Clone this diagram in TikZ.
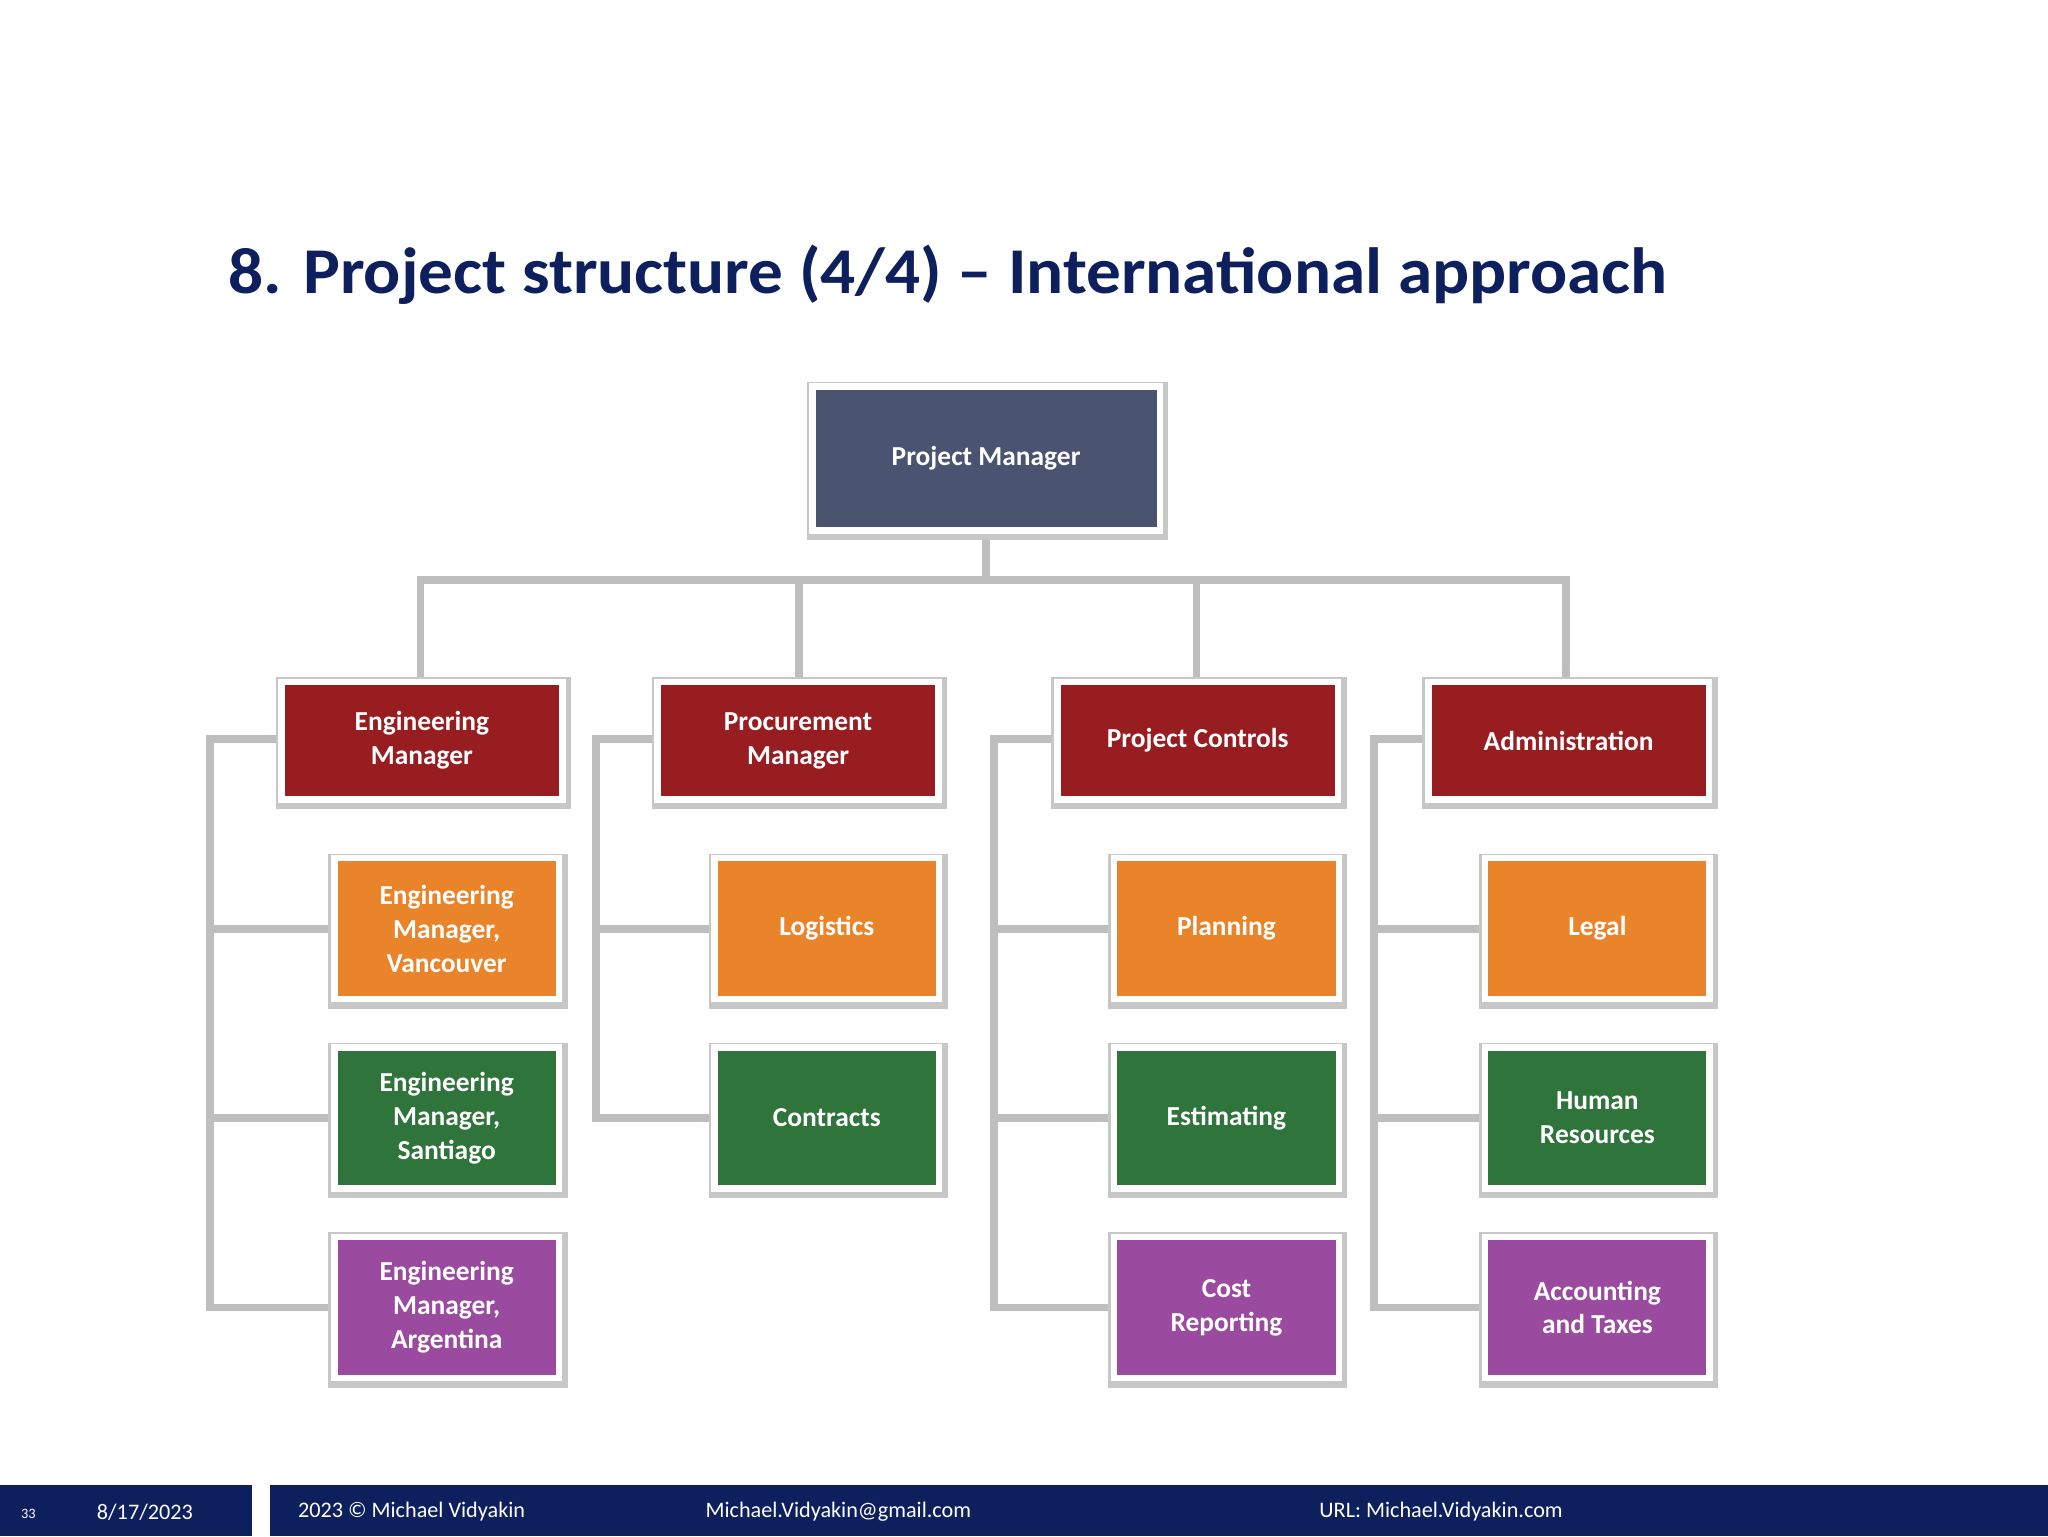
\documentclass[tikz,border=0pt]{standalone}
\usepackage{fontspec}
\setmainfont{Carlito}
\definecolor{navy}{HTML}{0D1F5C}
\definecolor{pmc}{HTML}{4A5370}
\definecolor{redc}{HTML}{981D21}
\definecolor{orc}{HTML}{EA842B}
\definecolor{grc}{HTML}{2F743A}
\definecolor{puc}{HTML}{9A4B9F}
\definecolor{linec}{HTML}{BEBEBE}
\begin{document}
\begin{tikzpicture}[x=1pt,y=-1pt,
  box/.style={draw=white,line width=5pt,text=white,font=\fontsize{21}{26}\selectfont\bfseries,align=center,inner sep=0pt,
    preaction={draw=black!22,line width=11pt,transform canvas={xshift=1pt,yshift=-2pt}}},
  lv2/.style={box,fill=redc,minimum width=215pt,minimum height=90pt},
  lv3/.style={box,minimum width=172pt,minimum height=108pt},
  conn/.style={draw=linec,line width=6pt},
  foot/.style={text=white,font=\fontsize{17}{20}\selectfont,anchor=west,inner sep=0pt}]
\useasboundingbox (0,0) rectangle (1568,1176);
\fill[white] (0,0) rectangle (1568,1176);
\node[anchor=base west,inner sep=0pt,text=navy,font=\fontsize{50}{60}\selectfont\bfseries,xscale=1.06,transform shape] (title) at (175,225) {8. Project structure (4/4) – International approach};
% connectors
\coordinate (pmb) at (755,444);
\draw[conn] (755,408) -- (pmb);
\draw[conn] (322,521) -- (322,444) -- (1199,444) -- (1199,521);
\draw[conn] (612,444) -- (612,521);
\draw[conn] (916,444) -- (916,521);
\draw[conn] (213,566) -| (161,1001) -- (254,1001);
\draw[conn] (161,711) -- (254,711); \draw[conn] (161,856) -- (254,856);
\draw[conn] (502,566) -| (456,856) -- (545,856);
\draw[conn] (456,711) -- (545,711);
\draw[conn] (808,566) -| (761,1001) -- (851,1001);
\draw[conn] (761,711) -- (851,711); \draw[conn] (761,856) -- (851,856);
\draw[conn] (1091,566) -| (1052,1001) -- (1135,1001);
\draw[conn] (1052,711) -- (1135,711); \draw[conn] (1052,856) -- (1135,856);
% boxes
\node[box,fill=pmc,minimum width=266pt,minimum height=110pt] (pm) at (755,351) {Project Manager};
\node[lv2] (eng) at (323,567) {Engineering\\Manager};
\node[lv2] (proc) at (611,567) {Procurement\\Manager};
\node[lv2] (pc) at (917,567) {Project Controls};
\node[lv2] (adm) at (1201,567) {Administration};
\node[lv3,fill=orc] (e1) at (342,711) {Engineering\\Manager,\\Vancouver};
\node[lv3,fill=grc] (e2) at (342,856) {Engineering\\Manager,\\Santiago};
\node[lv3,fill=puc] (e3) at (342,1001) {Engineering\\Manager,\\Argentina};
\node[lv3,fill=orc] (p1) at (633,711) {Logistics};
\node[lv3,fill=grc] (p2) at (633,856) {Contracts};
\node[lv3,fill=orc] (c1) at (939,711) {Planning};
\node[lv3,fill=grc] (c2) at (939,856) {Estimating};
\node[lv3,fill=puc] (c3) at (939,1001) {Cost\\Reporting};
\node[lv3,fill=orc] (a1) at (1223,711) {Legal};
\node[lv3,fill=grc] (a2) at (1223,856) {Human\\Resources};
\node[lv3,fill=puc] (a3) at (1223,1001) {Accounting\\and Taxes};
% footer
\fill[navy] (0,1137) rectangle (193,1176);
\fill[navy] (207,1137) rectangle (1568,1176);
\node[foot,font=\fontsize{11}{13}\selectfont] (pg) at (16,1159) {33};
\node[foot] (date) at (74,1158) {8/17/2023};
\node[foot] (cp) at (228,1157) {2023 © Michael Vidyakin};
\node[foot] (mail) at (540,1157) {Michael.Vidyakin@gmail.com};
\node[foot] (url) at (1010,1157) {URL: Michael.Vidyakin.com};
\end{tikzpicture}
\end{document}
